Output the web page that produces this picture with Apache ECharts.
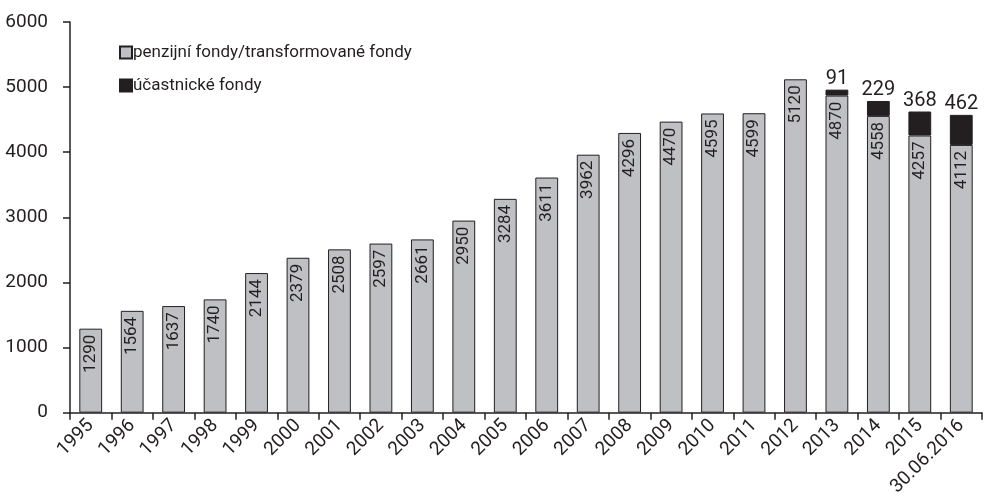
<!DOCTYPE html>
<html><head><meta charset="utf-8">
<script src="https://cdn.jsdelivr.net/npm/echarts@6/dist/echarts.min.js"></script>
<style>html,body{margin:0;padding:0;background:#fff}#c{width:985px;height:499px}</style>
</head><body><div id="c"></div>
<script>
const categories = ['1995','1996','1997','1998','1999','2000','2001','2002','2003','2004','2005','2006','2007','2008','2009','2010','2011','2012','2013','2014','2015','30.06.2016'];
const pensionFunds = [1290,1564,1637,1740,2144,2379,2508,2597,2661,2950,3284,3611,3962,4296,4470,4595,4599,5120,4870,4558,4257,4112];
const participantFunds = [null,null,null,null,null,null,null,null,null,null,null,null,null,null,null,null,null,null,91,229,368,462];
const yTicks = [0,1000,2000,3000,4000,5000,6000];
const seriesNames = ['penzijní fondy/transformované fondy','účastnické fondy'];

const font = 'Roboto';
const chart = echarts.init(document.getElementById('c'));
chart.setOption({
  animation:false,
  textStyle:{fontFamily:font},
  grid:{left:70,right:3,top:22,bottom:85,containLabel:false},
  legend:{
    orient:'vertical', left:114, top:39, itemGap:16,
    itemWidth:12, itemHeight:12, icon:'rect',
    textStyle:{fontSize:17, color:'#231f20', fontFamily:font, padding:[0,0,0,-4]},
    data:seriesNames
  },
  xAxis:{
    type:'category', data:categories,
    axisLine:{lineStyle:{color:'#231f20',width:1.5}},
    axisTick:{show:true,length:7,alignWithLabel:false,lineStyle:{color:'#231f20',width:1.5}},
    axisLabel:{rotate:45, fontSize:19, color:'#231f20', margin:10, interval:0}
  },
  yAxis:{
    type:'value', min:yTicks[0], max:yTicks[yTicks.length-1], interval:1000,
    splitLine:{show:false},
    axisLine:{show:true,lineStyle:{color:'#231f20',width:1.5}},
    axisTick:{show:true,length:7,lineStyle:{color:'#231f20',width:1.5}},
    axisLabel:{fontSize:19,color:'#231f20',margin:22, formatter:v=>String(v)}
  },
  series:[
    {
      name:seriesNames[0], type:'bar', stack:'a', data:pensionFunds, barWidth:'55%',
      itemStyle:{color:'#bfc0c4', borderColor:'#231f20', borderWidth:1},
      label:{show:true, position:'insideTop', rotate:90, align:'right', verticalAlign:'middle',
        distance:6, fontSize:17, color:'#231f20'}
    },
    {
      name:seriesNames[1], type:'bar', stack:'a', data:participantFunds, barWidth:'55%',
      itemStyle:{color:'#231f20', borderColor:'#231f20', borderWidth:1},
      label:{show:true, position:'top', distance:1, fontSize:20, color:'#231f20'}
    }
  ]
});
</script></body></html>
